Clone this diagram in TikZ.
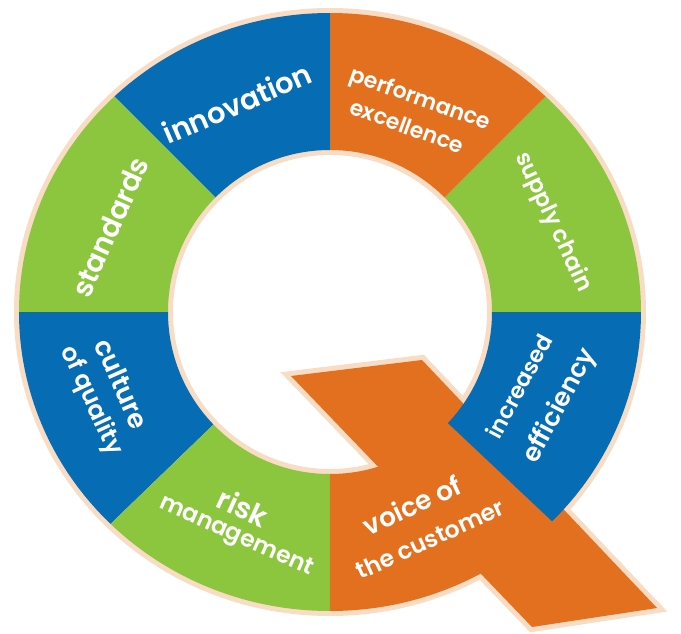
\documentclass[tikz,border=0pt]{standalone}
\usepackage{fontspec}
\setmainfont{Poppins}[BoldFont=* SemiBold]
\definecolor{qblue}{HTML}{066CB4}
\definecolor{qgreen}{HTML}{8CC63F}
\definecolor{qorange}{HTML}{E2701F}
\definecolor{qpeach}{HTML}{F8DCC4}
\tikzset{
  seglabel/.style={text=white, inner sep=0pt, font=\bfseries\fontsize{#1}{#1}\selectfont},
  halo/.style={qpeach, line width=10pt, line join=miter}
}
\begin{document}
\begin{tikzpicture}[x=1pt, y=1pt]
  \useasboundingbox (-330,312) rectangle (351,-321);
  % light rim round the whole Q
  \draw[halo] (0,0) ellipse [x radius=311, y radius=299];
  \draw[halo] (0,0) circle [radius=162];
  \draw[halo] (-39,-64) -- (92,-48) -- (327,-296) -- (202,-315) -- cycle;
  % tail
  \fill[qorange] (-39,-64) -- (92,-48) -- (327,-296) -- (202,-315) -- cycle;
  % ring segments
  \begin{scope}[even odd rule]
    \clip (0,0) ellipse [x radius=311, y radius=299] (0,0) circle [radius=162];
    \foreach \a/\b/\c in {0/45/qgreen, 45/90/qorange, 90/135/qblue, 135/180/qgreen,
                          180/224/qblue, 224/270/qgreen, 270/316.7/qorange, 316.7/360/qblue}
      \fill[\c] (0,0) -- (\a:500) -- ({(\a+\b)/2}:500) -- (\b:500) -- cycle;
  \end{scope}
  % texts
  \node[seglabel=29, rotate=23.5] (innovation) at (-93,209) {innovation};
  \node[seglabel=22, rotate=-19.5] (perf) at (90,212) {performance};
  \node[seglabel=22, rotate=-20] (excel) at (77,186) {excellence};
  \node[seglabel=23, rotate=-65] (supply) at (223,90) {supply chain};
  \node[seglabel=22.5, rotate=62] (incr) at (189,-74) {increased};
  \node[seglabel=25.5, rotate=62] (effic) at (230,-94) {efficiency};
  \node[seglabel=26.5, rotate=25] (voice) at (82,-193) {voice of};
  \node[seglabel=23.5, rotate=24.5] (customer) at (100,-227) {the customer};
  \node[seglabel=29, rotate=-24.5] (risk) at (-87,-195) {risk};
  \node[seglabel=23.5, rotate=-24] (manage) at (-94,-225) {management};
  \node[seglabel=26.5, rotate=-66] (culture) at (-208,-72) {culture};
  \node[seglabel=24.5, rotate=-65] (quality) at (-239,-89) {of quality};
  \node[seglabel=28.5, rotate=66] (standards) at (-220,85) {standards};
\end{tikzpicture}
\end{document}
